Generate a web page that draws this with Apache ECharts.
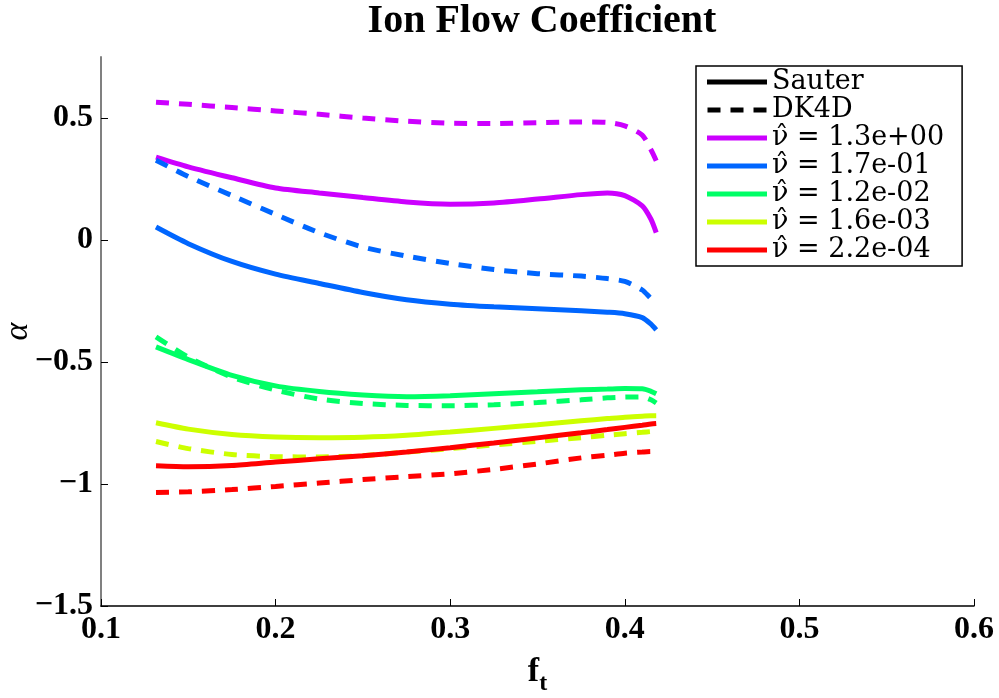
<!DOCTYPE html>
<html><head><meta charset="utf-8">
<script src="https://cdn.jsdelivr.net/npm/echarts@6/dist/echarts.min.js"></script>
<style>html,body{margin:0;padding:0;background:#fff}#c{width:999px;height:698px}</style>
</head><body><div id="c"></div>
<script>
const ft = [0.1315, 0.15, 0.175, 0.2, 0.225, 0.25, 0.275, 0.3, 0.325, 0.35, 0.375, 0.39, 0.4, 0.41, 0.415, 0.418];

const nuLabels = ['1.3e+00', '1.7e-01', '1.2e-02', '1.6e-03', '2.2e-04'];
const colors = ['#cc00ff', '#0066ff', '#00ff66', '#ccff00', '#ff0000'];

const sauter13 = [0.34, 0.30, 0.255, 0.213, 0.193, 0.174, 0.156, 0.147, 0.152, 0.168, 0.186, 0.193, 0.182, 0.14, 0.085, 0.03];
const dk4d13   = [0.565, 0.556, 0.543, 0.529, 0.515, 0.50, 0.487, 0.479, 0.477, 0.481, 0.484, 0.482, 0.468, 0.43, 0.37, 0.325];
const sauter17 = [0.053, -0.015, -0.088, -0.14, -0.178, -0.215, -0.245, -0.263, -0.274, -0.282, -0.29, -0.296, -0.302, -0.318, -0.345, -0.368];
const dk4d17   = [0.327, 0.26, 0.182, 0.105, 0.03, -0.029, -0.066, -0.096, -0.121, -0.138, -0.148, -0.158, -0.17, -0.205, -0.24, -0.256];
const sauter12 = [-0.438, -0.49, -0.555, -0.598, -0.621, -0.635, -0.642, -0.638, -0.63, -0.622, -0.614, -0.611, -0.609, -0.61, -0.62, -0.63];
const dk4d12   = [-0.397, -0.48, -0.562, -0.615, -0.652, -0.67, -0.678, -0.679, -0.675, -0.666, -0.655, -0.647, -0.644, -0.643, -0.655, -0.668];
const sauter16 = [-0.749, -0.775, -0.797, -0.807, -0.81, -0.808, -0.80, -0.787, -0.772, -0.757, -0.741, -0.732, -0.726, -0.722, -0.72, -0.72];
const dk4d16   = [-0.826, -0.855, -0.879, -0.888, -0.889, -0.884, -0.869, -0.855, -0.84, -0.825, -0.81, -0.80, -0.794, -0.788, -0.785, -0.784];
const sauter22 = [-0.925, -0.929, -0.924, -0.91, -0.897, -0.884, -0.869, -0.851, -0.832, -0.811, -0.79, -0.777, -0.768, -0.759, -0.754, -0.752];
const dk4d22   = [-1.035, -1.032, -1.023, -1.01, -0.996, -0.982, -0.97, -0.958, -0.94, -0.918, -0.893, -0.882, -0.874, -0.869, -0.867, -0.867];

const xTicks = [0.1, 0.2, 0.3, 0.4, 0.5, 0.6];
const yTicks = [-1.5, -1, -0.5, 0, 0.5];

const sauterSets = [sauter13, sauter17, sauter12, sauter16, sauter22];
const dk4dSets = [dk4d13, dk4d17, dk4d12, dk4d16, dk4d22];

const serif = 'Liberation Serif';
const lw = 5;
const dash = [13, 10];
const dashIcon = 'path://M0,0H13V5H0Z M23,0H36V5H23Z M46,0H59V5H46Z';

const series = [
  {name: 'Sauter', type: 'line', data: [], symbol: 'none', color: '#000', lineStyle: {color: '#000', width: lw}},
  {name: 'DK4D', type: 'line', data: [], symbol: 'none', color: '#000', lineStyle: {color: '#000', width: lw, type: dash}}
];
const legendData = [{name: 'Sauter', icon: 'rect'}, {name: 'DK4D', icon: dashIcon}];
for (let i = 0; i < 5; i++) {
  const nm = 'ν̂ = ' + nuLabels[i];
  legendData.push({name: nm, icon: 'rect'});
  series.push({
    name: nm, type: 'line', symbol: 'none', smooth: 0.25, color: colors[i],
    lineStyle: {color: colors[i], width: lw, cap: 'butt'},
    data: ft.map((x, k) => [x, sauterSets[i][k]])
  });
  series.push({
    name: 'DK4D ' + nuLabels[i], type: 'line', symbol: 'none', smooth: 0.25, color: colors[i],
    lineStyle: {color: colors[i], width: lw, type: dash, cap: 'butt'},
    data: ft.map((x, k) => [x, dk4dSets[i][k]])
  });
}

const chart = echarts.init(document.getElementById('c'), null, {renderer: 'canvas'});
chart.setOption({
  animation: false,
  backgroundColor: '#fff',
  title: {
    text: 'Ion Flow Coefficient', left: 537, textAlign: 'center', top: -3,
    textStyle: {fontFamily: serif, fontWeight: 'bold', fontSize: 40, color: '#000'}
  },
  grid: {left: 101, right: 25, top: 57, bottom: 92, containLabel: false, outerBoundsMode: 'none'},
  legend: {
    data: legendData, orient: 'vertical', left: 696, top: 66,
    backgroundColor: '#fff', borderColor: '#000', borderWidth: 1.5, borderRadius: 0,
    padding: [2, 18, 2, 11], itemGap: 0, itemWidth: 60, itemHeight: 5,
    textStyle: {fontFamily: 'DejaVu Serif', fontSize: 27, color: '#000', lineHeight: 28},
    selectedMode: false
  },
  xAxis: {
    type: 'value', min: 0.1, max: 0.6, interval: 0.1,
    name: '{f|f}{t|t}', nameLocation: 'middle', nameGap: 42, nameMoveOverlap: false,
    nameTextStyle: {
      rich: {
        f: {fontFamily: serif, fontWeight: 'bold', fontSize: 34, color: '#000'},
        t: {fontFamily: serif, fontWeight: 'bold', fontSize: 24, color: '#000', padding: [24, 0, 0, 0]}
      }
    },
    axisLine: {onZero: false, lineStyle: {color: '#000', width: 1.5}},
    axisTick: {inside: true, length: 7, lineStyle: {color: '#000', width: 1}},
    axisLabel: {
      margin: 8, fontFamily: serif, fontWeight: 'bold', fontSize: 32, color: '#000',
      formatter: v => v.toFixed(1)
    },
    splitLine: {show: false}
  },
  yAxis: {
    type: 'value', min: -1.5, max: 0.75, interval: 0.5,
    name: 'α', nameLocation: 'middle', nameGap: 66, nameMoveOverlap: false,
    nameTextStyle: {fontFamily: serif, fontStyle: 'italic', fontSize: 34, color: '#000'},
    axisLine: {onZero: false, lineStyle: {color: '#808080', width: 2}},
    axisTick: {inside: true, length: 7, lineStyle: {color: '#000', width: 1}, customValues: yTicks},
    axisLabel: {
      margin: 8, fontFamily: serif, fontWeight: 'bold', fontSize: 32, color: '#000',
      customValues: yTicks,
      formatter: v => (v === 0 ? '0' : String(v).replace('-', '−'))
    },
    splitLine: {show: false}
  },
  series: series
});
</script>
</body></html>
